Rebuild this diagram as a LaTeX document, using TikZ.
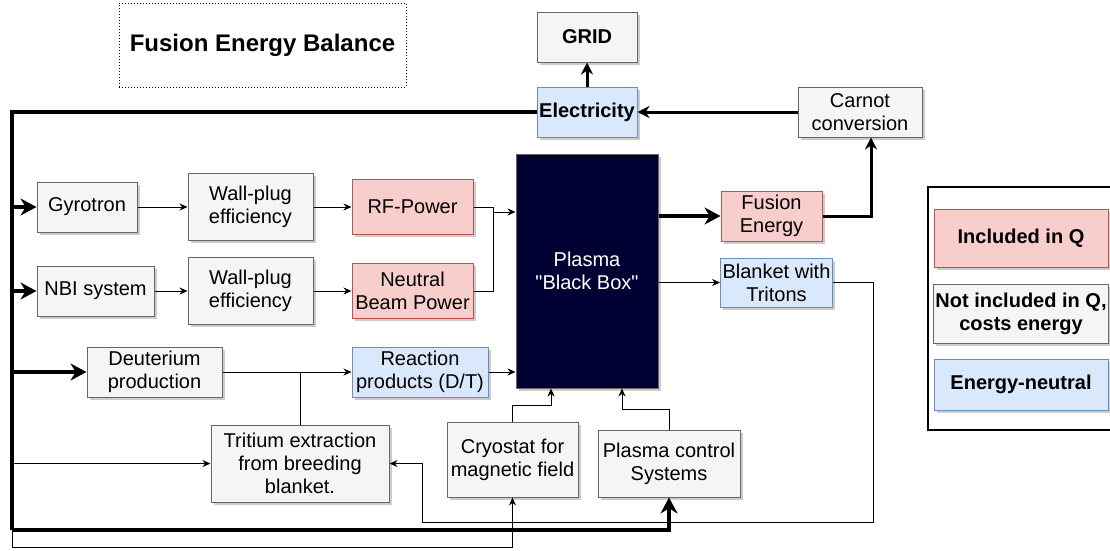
\documentclass[tikz,border=0pt]{standalone}
\usepackage{fontspec}
\setmainfont{Liberation Sans}
\newfontfamily\plainquotes{Liberation Sans}
\usetikzlibrary{arrows.meta,shadows}

\definecolor{grayfill}{HTML}{F5F5F5}
\definecolor{graydraw}{HTML}{666666}
\definecolor{redfill}{HTML}{F8CECC}
\definecolor{reddraw}{HTML}{B85450}
\definecolor{bluefill}{HTML}{DAE8FC}
\definecolor{bluedraw}{HTML}{6C8EBF}
\definecolor{plasmafill}{HTML}{000033}

\tikzset{
	box/.style={rectangle, draw, line width=1pt, align=center, inner sep=2pt,
		font=\fontsize{20}{23}\selectfont,
		drop shadow={shadow xshift=2.5pt, shadow yshift=-2.5pt, opacity=0.2, fill=black}},
	graybox/.style={box, fill=grayfill, draw=graydraw},
	redbox/.style={box, fill=redfill, draw=reddraw},
	bluebox/.style={box, fill=bluefill, draw=bluedraw},
	thinarrow/.style={line width=1pt, -{Stealth[length=8pt,width=7pt]}},
	thinline/.style={line width=1pt},
	midarrow/.style={line width=3pt, -{Stealth[length=12pt,width=12pt]}},
	thickarrow/.style={line width=4pt, -{Stealth[length=16pt,width=17pt]}},
	thickline/.style={line width=4pt},
}

\begin{document}
\begin{tikzpicture}[x=1pt, y=-1pt, line join=miter]
	\useasboundingbox (0,0) rectangle (1110,550);
	\clip (0,0) rectangle (1110,550);

	% title and legend
	\node[draw, dotted, line width=1pt, minimum width=287pt, minimum height=84pt,
		font=\bfseries\fontsize{24}{28}\selectfont] (title) at (262.5,45) {Fusion Energy Balance};
	\draw[line width=2.5pt] (928,187) rectangle (1120,430);
	\node[redbox, minimum width=174pt, minimum height=58pt, font=\bfseries\fontsize{20}{23}\selectfont] (legq) at (1021,238) {Included in Q};
	\node[graybox, minimum width=174pt, minimum height=59pt, font=\bfseries\fontsize{20}{23}\selectfont] (legcost) at (1021,313.5) {Not included in Q,\\costs energy};
	\node[bluebox, minimum width=174pt, minimum height=51pt, font=\bfseries\fontsize{20}{23}\selectfont] (legneutral) at (1021,384.5) {Energy-neutral};

	% top row
	\node[graybox, minimum width=100pt, minimum height=50pt, font=\bfseries\fontsize{20}{23}\selectfont] (grid) at (587,37) {GRID};
	\node[bluebox, minimum width=100pt, minimum height=50pt, font=\bfseries\fontsize{20}{23}\selectfont] (elec) at (587,112) {Electricity};
	\node[graybox, minimum width=124pt, minimum height=50pt] (carnot) at (860,112) {Carnot\\conversion};

	% plasma and outputs
	\node[box, fill=plasmafill, draw=graydraw, text=white, minimum width=142pt, minimum height=234pt,
		font=\plainquotes\fontsize{20}{23}\selectfont] (plasma) at (587,271) {Plasma\\"Black Box"};
	\node[redbox, minimum width=101pt, minimum height=50pt] (fusion) at (771.5,216) {Fusion\\Energy};
	\node[bluebox, minimum width=111pt, minimum height=49pt] (blanket) at (776.5,282.5) {Blanket with\\Tritons};

	% heating chains
	\node[graybox, minimum width=100pt, minimum height=50pt] (gyro) at (87,207) {Gyrotron};
	\node[graybox, minimum width=125pt, minimum height=67pt] (wpa) at (250.5,207) {Wall-plug\\efficiency};
	\node[redbox, minimum width=121pt, minimum height=55pt] (rf) at (412.5,207) {RF-Power};
	\node[graybox, minimum width=117pt, minimum height=50pt] (nbi) at (95.5,291) {NBI system};
	\node[graybox, minimum width=125pt, minimum height=67pt] (wpb) at (250.5,291) {Wall-plug\\efficiency};
	\node[redbox, minimum width=121pt, minimum height=55pt] (nbp) at (412.5,291) {Neutral\\Beam Power};

	% fuel and support systems
	\node[graybox, minimum width=135pt, minimum height=50pt] (deut) at (154.5,372) {Deuterium\\production};
	\node[bluebox, minimum width=136pt, minimum height=50pt] (react) at (420,372) {Reaction\\products (D/T)};
	\node[graybox, minimum width=178pt, minimum height=77pt] (trit) at (300,463.5) {Tritium extraction\\from breeding\\blanket.};
	\node[graybox, minimum width=131pt, minimum height=75pt] (cryo) at (512.5,459.5) {Cryostat for\\magnetic field};
	\node[graybox, minimum width=142pt, minimum height=67pt] (pctrl) at (669,463.5) {Plasma control\\Systems};

	\coordinate (bustop) at (12,112);
	\coordinate (busbot) at (12,530);
	\coordinate (join) at (493,212);
	\coordinate (loopr) at (873,522);
	\coordinate (loopl) at (422,522);
	\coordinate (pina) at (551,405);
	\coordinate (pinb) at (622,409);

	% power bus
	\draw[thickline] (elec.west) -- (bustop) -- (busbot);
	\draw[thickarrow] (busbot) -| (pctrl.south);
	\draw[thinarrow] (busbot) -- ++(0,17) -| (cryo.south);
	\draw[thickarrow] (bustop |- gyro.west) -- (gyro.west);
	\draw[thickarrow] (bustop |- nbi.west) -- (nbi.west);
	\draw[thickarrow] (bustop |- deut.west) -- (deut.west);
	\draw[thinarrow] (bustop |- trit.west) -- (trit.west);

	% heating
	\draw[thinarrow] (gyro.east) -- (wpa.west);
	\draw[thinarrow] (wpa.east) -- (rf.west);
	\draw[thinarrow] (nbi.east) -- (wpb.west);
	\draw[thinarrow] (wpb.east) -- (nbp.west);
	\draw[thinline] (rf.east) -| (join);
	\draw[thinline] (nbp.east) -| (join);
	\draw[thinarrow] (join) -- (join -| plasma.west);

	% fuel
	\draw[thinarrow] (deut.east) -- (react.west);
	\draw[thinline] (trit.north) -- (trit.north |- deut.east);
	\draw[thinarrow] (react.east) -- (react.east -| plasma.west);
	\draw[thinarrow] (cryo.north) |- (pina) -- (pina |- plasma.south);
	\draw[thinarrow] (pctrl.north) |- (pinb) -- (pinb |- plasma.south);

	% outputs
	\draw[thickarrow] (plasma.east |- fusion.west) -- (fusion.west);
	\draw[thinarrow] (plasma.east |- blanket.west) -- (blanket.west);
	\draw[thinarrow] (blanket.east) -| (loopr) -- (loopl) |- (trit.east);
	\draw[midarrow] (fusion.east) -| ([xshift=11pt]carnot.south);
	\draw[midarrow] (carnot.west) -- (elec.east);
	\draw[midarrow] (elec.north) -- (grid.south);
\end{tikzpicture}
\end{document}
